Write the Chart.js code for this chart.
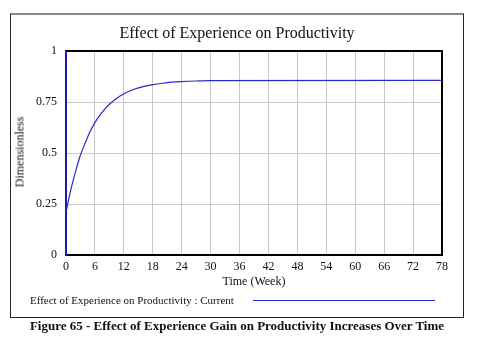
<!DOCTYPE html>
<html>
<head>
<meta charset="utf-8">
<script src="https://cdn.jsdelivr.net/npm/chart.js@4.4.1/dist/chart.umd.min.js"></script>
<style>
  body { margin: 0; background: #fff; }
  #wrap { position: relative; width: 494px; height: 353px; font-family: "Liberation Serif", "Times New Roman", serif; color: #111; }
  #frame { position: absolute; left: 10px; top: 13px; width: 452px; height: 302px; border: 1px solid #222; border-top: 2px solid #888; }
  canvas { position: absolute; left: 0; top: 0; }
  .txt { position: absolute; white-space: nowrap; }
  #title { left: 10px; width: 454px; top: 24px; text-align: center; font-size: 16px; }
  #ytitle { left: 20px; top: 152px; font-size: 12px; color: #111; transform: translate(-50%, -50%) rotate(-90deg); }
  #xtitle { left: 66px; width: 376px; top: 274px; text-align: center; font-size: 12px; }
  #legend { left: 30px; top: 294px; font-size: 11px; }
  #legline { position: absolute; left: 253px; top: 300px; width: 182px; height: 0; border-top: 1px solid #2a2ac8; }
  #caption { left: 10px; width: 454px; top: 318px; text-align: center; font-size: 13px; font-weight: bold; }
</style>
</head>
<body>
<div id="wrap">
  <div id="frame"></div>
  <canvas id="chart" width="494" height="353"></canvas>
  <div class="txt" id="title">Effect of Experience on Productivity</div>
  <div class="txt" id="ytitle">Dimensionless</div>
  <div class="txt" id="xtitle">Time (Week)</div>
  <div class="txt" id="legend">Effect of Experience on Productivity : Current</div>
  <div id="legline"></div>
  <div class="txt" id="caption">Figure 65 - Effect of Experience Gain on Productivity Increases Over Time</div>
</div>
<script>
// values
const weeks = [0, 1, 2, 3, 4, 5, 6, 7, 8, 9, 10, 12, 14, 16, 18, 20, 22, 24, 27, 30, 78];
const effect = [0.21, 0.32, 0.41, 0.49, 0.55, 0.605, 0.649, 0.684, 0.714, 0.739, 0.759, 0.79, 0.811, 0.825, 0.835, 0.842, 0.847, 0.85, 0.853, 0.855, 0.856];

const points = weeks.map((w, i) => ({ x: w, y: effect[i] }));

const plotBox = {
    id: 'plotBox',
    afterDraw(chart) {
        const { ctx, chartArea } = chart;
        ctx.save();
        ctx.strokeStyle = '#000';
        ctx.lineWidth = 2;
        ctx.beginPath();
        ctx.moveTo(chartArea.left, chartArea.top);
        ctx.lineTo(chartArea.right, chartArea.top);
        ctx.lineTo(chartArea.right, chartArea.bottom);
        ctx.stroke();
        ctx.restore();
    }
};

new Chart(document.getElementById('chart'), {
    type: 'line',
    data: {
        datasets: [{
            label: 'Effect of Experience on Productivity : Current',
            data: points,
            borderColor: '#2a2ac8',
            borderWidth: 1.2,
            pointRadius: 0,
            tension: 0.4,
            cubicInterpolationMode: 'monotone'
        }]
    },
    options: {
        responsive: false,
        animation: false,
        layout: { padding: { left: 10, right: 52, top: 51, bottom: 78 } },
        plugins: {
            legend: { display: false },
            tooltip: { enabled: false }
        },
        scales: {
            x: {
                type: 'linear',
                min: 0,
                max: 78,
                afterFit: s => { s.height = 20; },
                ticks: { stepSize: 6, padding: 5, color: '#111', font: { family: 'Liberation Serif', size: 12 } },
                grid: { color: '#c8c8c8', drawTicks: false },
                border: { color: '#000', width: 2 }
            },
            y: {
                min: 0,
                max: 1,
                afterFit: s => { s.width = 56; },
                ticks: {
                    stepSize: 0.25,
                    padding: 9,
                    color: '#111',
                    font: { family: 'Liberation Serif', size: 12 },
                    callback: v => String(v)
                },
                grid: { color: '#c8c8c8', drawTicks: false },
                border: { color: '#1c1ca8', width: 2 }
            }
        }
    },
    plugins: [plotBox]
});
</script>
</body>
</html>
